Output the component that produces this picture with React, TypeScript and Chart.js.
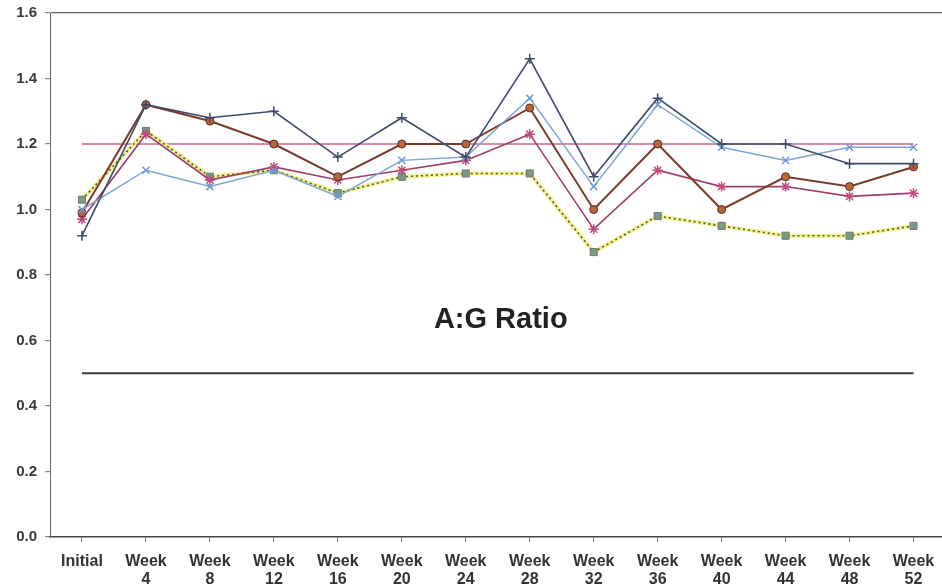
import React, { useEffect, useRef } from "react";
import { Chart, registerables } from "chart.js";

Chart.register(...registerables);

const categories: (string | string[])[] = [
  "Initial",
  ["Week", "4"],
  ["Week", "8"],
  ["Week", "12"],
  ["Week", "16"],
  ["Week", "20"],
  ["Week", "24"],
  ["Week", "28"],
  ["Week", "32"],
  ["Week", "36"],
  ["Week", "40"],
  ["Week", "44"],
  ["Week", "48"],
  ["Week", "52"],
];

const navySeries = [0.92, 1.32, 1.28, 1.30, 1.16, 1.28, 1.16, 1.46, 1.10, 1.34, 1.20, 1.20, 1.14, 1.14];
const lightBlueSeries = [1.00, 1.12, 1.07, 1.12, 1.04, 1.15, 1.16, 1.34, 1.07, 1.32, 1.19, 1.15, 1.19, 1.19];
const brownSeries = [0.99, 1.32, 1.27, 1.20, 1.10, 1.20, 1.20, 1.31, 1.00, 1.20, 1.00, 1.10, 1.07, 1.13];
const magentaSeries = [0.97, 1.23, 1.09, 1.13, 1.09, 1.12, 1.15, 1.23, 0.94, 1.12, 1.07, 1.07, 1.04, 1.05];
const yellowSeries = [1.03, 1.24, 1.10, 1.12, 1.05, 1.10, 1.11, 1.11, 0.87, 0.98, 0.95, 0.92, 0.92, 0.95];
const upperLimit = [1.2, 1.2, 1.2, 1.2, 1.2, 1.2, 1.2, 1.2, 1.2, 1.2, 1.2, 1.2, 1.2, 1.2];
const lowerLimit = [0.5, 0.5, 0.5, 0.5, 0.5, 0.5, 0.5, 0.5, 0.5, 0.5, 0.5, 0.5, 0.5, 0.5];

const yMin = 0;
const yMax = 1.6;
const yStep = 0.2;
const chartLabel = "A:G Ratio";
const chartLabelValue = 0.663;

const FONT = "'Liberation Sans', Arial, sans-serif";

export default function App() {
  const canvasRef = useRef<HTMLCanvasElement | null>(null);

  useEffect(() => {
    if (!canvasRef.current) return;

    const innerTitle = {
      id: "innerTitle",
      afterDatasetsDraw(chart: any) {
        const { ctx, chartArea, scales } = chart;
        ctx.save();
        ctx.font = `bold 29px ${FONT}`;
        ctx.fillStyle = "#222";
        ctx.textAlign = "center";
        ctx.textBaseline = "middle";
        ctx.fillText(chartLabel, (chartArea.left + chartArea.right) / 2 + 3, scales.y.getPixelForValue(chartLabelValue));
        ctx.restore();
      },
    };

    const chart = new Chart(canvasRef.current, {
      type: "line",
      data: {
        labels: categories,
        datasets: [
          {
            label: "Series 1",
            data: navySeries,
            borderColor: "#3e4b6a",
            borderWidth: 1.6,
            pointStyle: "cross",
            pointRadius: 5,
            pointBorderColor: "#3e4b6a",
            pointBorderWidth: 1.5,
            backgroundColor: "#3e4b6a",
          },
          {
            label: "Series 2",
            data: lightBlueSeries,
            borderColor: "#7ea6d2",
            borderWidth: 1.5,
            pointStyle: "crossRot",
            pointRadius: 5,
            pointBorderColor: "#6f9ad0",
            pointBorderWidth: 1.5,
            backgroundColor: "#7ea6d2",
          },
          {
            label: "Series 3",
            data: brownSeries,
            borderColor: "#7a3a2c",
            borderWidth: 2,
            pointStyle: "circle",
            pointRadius: 4,
            pointBackgroundColor: "#b8663c",
            pointBorderColor: "#5a2a20",
            pointBorderWidth: 1,
            backgroundColor: "#b8663c",
          },
          {
            label: "Series 4",
            data: magentaSeries,
            borderColor: "#9c3f6c",
            borderWidth: 1.6,
            pointStyle: "star",
            pointRadius: 5,
            pointBorderColor: "#c4487f",
            pointBorderWidth: 1.5,
            backgroundColor: "#c4487f",
          },
          {
            label: "Series 5 dots",
            data: yellowSeries,
            borderColor: "#4b5a44",
            borderWidth: 1.6,
            borderDash: [2, 3],
            pointStyle: "rect",
            pointRadius: 5,
            pointBackgroundColor: "#7d9a86",
            pointBorderColor: "#6b7a70",
            pointBorderWidth: 1,
            backgroundColor: "#7d9a86",
          },
          {
            label: "Series 5",
            data: yellowSeries,
            borderColor: "#f4f08c",
            borderWidth: 4,
            pointRadius: 0,
            backgroundColor: "#f4f08c",
          },
          {
            label: "Upper",
            data: upperLimit,
            borderColor: "#d0608c",
            borderWidth: 1.6,
            pointRadius: 0,
            backgroundColor: "#d0608c",
          },
          {
            label: "Lower",
            data: lowerLimit,
            borderColor: "#3a3a3a",
            borderWidth: 2,
            pointRadius: 0,
            backgroundColor: "#3a3a3a",
          },
        ],
      },
      options: {
        animation: false,
        responsive: true,
        maintainAspectRatio: false,
        layout: { padding: { top: 13, right: 2, left: 0, bottom: 0 } },
        plugins: {
          legend: { display: false },
          tooltip: { enabled: false },
          title: { display: false },
        },
        elements: { line: { tension: 0 } },
        scales: {
          x: {
            type: "category",
            offset: true,
            afterFit: (scale: any) => {
              scale.height = 50;
              scale.paddingLeft = 0;
              scale.paddingRight = 0;
            },
            border: { display: true, color: "#444", width: 1.5 },
            grid: {
              display: true,
              drawOnChartArea: false,
              drawTicks: true,
              tickLength: 5,
              color: "#777",
            },
            ticks: {
              autoSkip: false,
              maxRotation: 0,
              minRotation: 0,
              padding: 10,
              color: "#333",
              font: { family: FONT, size: 16, weight: "bold", lineHeight: 1.15 },
            },
          },
          y: {
            min: yMin,
            max: yMax,
            afterFit: (scale: any) => {
              scale.width = 50;
              scale.paddingTop = 0;
              scale.paddingBottom = 0;
            },
            border: { display: true, color: "#666", width: 1 },
            grid: {
              drawTicks: true,
              tickLength: 5,
              tickColor: "#888",
              color: (ctx: any) =>
                ctx.tick && Math.abs(ctx.tick.value - yMax) < 1e-6 ? "#666" : "rgba(0,0,0,0)",
              lineWidth: 1.2,
            },
            ticks: {
              stepSize: yStep,
              padding: 8,
              color: "#3a3a3a",
              font: { family: FONT, size: 15, weight: "bold" },
              callback: (v: any) => Number(v).toFixed(1),
            },
          },
        },
      },
      plugins: [innerTitle],
    });

    return () => chart.destroy();
  }, []);

  return (
    <div
      style={{
        position: "fixed",
        left: 0,
        top: 0,
        width: 942,
        height: 587,
        overflow: "hidden",
        background: "#fff",
      }}
    >
      <div style={{ width: 952, height: 587, position: "relative" }}>
        <canvas ref={canvasRef} />
      </div>
    </div>
  );
}
